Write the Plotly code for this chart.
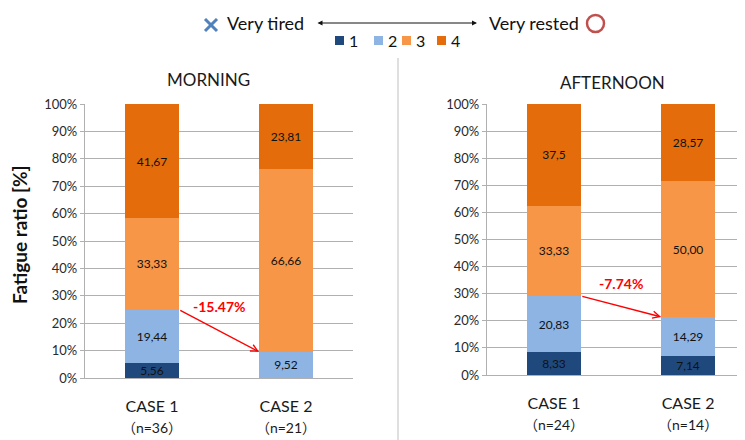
import plotly.graph_objects as go

# Datos de fatiga (porcentaje por nivel 1..4)
CASOS = ["CASE 1", "CASE 2"]
N_MORNING = ["（n=36）", "（n=21）"]
N_AFTERNOON = ["（n=24）", "（n=14）"]
NIVELES = ["1", "2", "3", "4"]

MORNING = {
    "1": [5.56, 0.0],
    "2": [19.44, 9.52],
    "3": [33.33, 66.66],
    "4": [41.67, 23.81],
}
MORNING_TXT = {
    "1": ["5,56", ""],
    "2": ["19,44", "9,52"],
    "3": ["33,33", "66,66"],
    "4": ["41,67", "23,81"],
}
AFTERNOON = {
    "1": [8.33, 7.14],
    "2": [20.83, 14.29],
    "3": [33.33, 50.00],
    "4": [37.5, 28.57],
}
AFTERNOON_TXT = {
    "1": ["8,33", "7,14"],
    "2": ["20,83", "14,29"],
    "3": ["33,33", "50,00"],
    "4": ["37,5", "28,57"],
}
CAMBIO_MORNING = "-15.47%"
CAMBIO_AFTERNOON = "-7.74%"

COLORES = {"1": "#1F497D", "2": "#8DB4E2", "3": "#F79646", "4": "#E46C0A"}
FUENTE = "Lato, Open Sans, Noto Sans CJK JP, sans-serif"

# La página deja 8 px de margen en el body: la figura se achica y se desplaza
OFF = 8
W, H = 745 - OFF, 440 - OFF


def px(x):
    return (x - OFF) / W


def py(y):
    return 1 - (y - OFF) / H


fig = go.Figure()

for datos, textos, eje_x, eje_y in [(MORNING, MORNING_TXT, "x", "y"), (AFTERNOON, AFTERNOON_TXT, "x2", "y2")]:
    for nivel in NIVELES:
        fig.add_trace(go.Bar(
            x=CASOS, y=datos[nivel], text=textos[nivel], name=nivel,
            marker=dict(color=COLORES[nivel], line=dict(width=0)),
            textposition="inside", insidetextanchor="middle", constraintext="none",
            textfont=dict(family=FUENTE, size=12, color="#111111"),
            xaxis=eje_x, yaxis=eje_y, showlegend=False, hoverinfo="skip",
        ))

eje_y = dict(
    range=[0, 100], dtick=10, ticksuffix="%", showgrid=True, gridcolor="#B0B0B0", gridwidth=1.3,
    showline=True, linecolor="#B0B0B0", linewidth=1.3, ticks="outside", ticklen=4, tickcolor="#B0B0B0",
    tickfont=dict(family=FUENTE, size=13, color="#2a2a2a"), zeroline=False, fixedrange=True,
    automargin=False,
)
eje_x = dict(
    tickfont=dict(family=FUENTE, size=16, color="#1a1a1a"), showline=True, linecolor="#B0B0B0",
    linewidth=1.3, ticks="", ticklabelstandoff=14, fixedrange=True, automargin=False,
)

fig.update_layout(
    width=W, height=H, margin=dict(l=0, r=0, t=0, b=0),
    paper_bgcolor="white", plot_bgcolor="white", barmode="stack", bargap=0.6,
    font=dict(family=FUENTE),
    xaxis=dict(eje_x, domain=[px(85), px(353)], range=[-0.5, 1.5], anchor="y",
               tickvals=CASOS,
               ticktext=[c + "<br><span style='font-size:14px'>" + n + "</span>" for c, n in zip(CASOS, N_MORNING)]),
    yaxis=dict(eje_y, domain=[py(378), py(104)], anchor="x"),
    xaxis2=dict(eje_x, domain=[px(487), 1.0], range=[-0.5, 1.425], anchor="y2",
                tickvals=CASOS,
                ticktext=[c + "<br><span style='font-size:14px'>" + n + "</span>" for c, n in zip(CASOS, N_AFTERNOON)]),
    yaxis2=dict(eje_y, domain=[py(375), py(104)], anchor="x2"),
)

anots = [
    dict(text="MORNING", x=px(209), y=py(80), font=dict(size=17, color="#1a1a1a")),
    dict(text="AFTERNOON", x=px(612), y=py(82), font=dict(size=17, color="#1a1a1a")),
    dict(text="<b>Fatigue ratio [%]</b>", x=px(20), y=py(235), textangle=-90,
         font=dict(size=19, color="#111111")),
    dict(text="Very tired", x=px(225), y=py(23), xanchor="left", font=dict(size=18, color="#111111")),
    dict(text="Very rested", x=px(487), y=py(23), xanchor="left", font=dict(size=18, color="#111111")),
]
for a in anots:
    a.setdefault("xanchor", "center")
    fig.add_annotation(xref="paper", yref="paper", yanchor="middle", showarrow=False, **a)

# flecha doble de la escala
fig.add_annotation(xref="paper", yref="paper", x=px(477), y=py(23), ax=-(477 - 316), ay=0,
                   text="", showarrow=True, arrowside="end+start",
                   arrowhead=2, arrowsize=1, arrowwidth=1, arrowcolor="#111111")

# flechas rojas de cambio
for xr, yr, y_ini, y_fin, texto, y_txt in [
    ("x", "y", 25.0, 9.52, CAMBIO_MORNING, 26),
    ("x2", "y2", 29.16, 21.43, CAMBIO_AFTERNOON, 33.6),
]:
    fig.add_annotation(xref=xr, yref=yr, x=0.8, y=y_fin, axref=xr, ayref=yr, ax=0.2, ay=y_ini,
                       text="", showarrow=True, arrowhead=5, arrowsize=1, arrowwidth=1.4, arrowcolor="#FF0000")
    fig.add_annotation(xref=xr, yref=yr, x=0.5, y=y_txt, text="<b>" + texto + "</b>", showarrow=False,
                       font=dict(size=14, color="#FF0000"))

# leyenda manual 1..4
leyenda_x = [335, 374, 402, 437]
for nivel, lx in zip(NIVELES, leyenda_x):
    fig.add_shape(type="rect", xref="paper", yref="paper", x0=px(lx), x1=px(lx + 9),
                  y0=py(45), y1=py(36), fillcolor=COLORES[nivel], line=dict(width=0))
    fig.add_annotation(xref="paper", yref="paper", x=px(lx + 12), y=py(40), text=nivel, xanchor="left",
                       yanchor="middle", showarrow=False, font=dict(size=16, color="#111111"))

# cruz azul y círculo rojo
fig.add_shape(type="line", xref="paper", yref="paper", x0=px(205), y0=py(19), x1=px(217), y1=py(31),
              line=dict(color="#4F81BD", width=3))
fig.add_shape(type="line", xref="paper", yref="paper", x0=px(205), y0=py(31), x1=px(217), y1=py(19),
              line=dict(color="#4F81BD", width=3))
fig.add_shape(type="circle", xref="paper", yref="paper", x0=px(587), x1=px(604), y0=py(32), y1=py(15),
              line=dict(color="#C0504D", width=2.5))

# separador vertical
fig.add_shape(type="line", xref="paper", yref="paper", x0=px(398), x1=px(398), y0=py(58), y1=0,
              line=dict(color="#BFBFBF", width=1))

fig.write_html("out.html")
